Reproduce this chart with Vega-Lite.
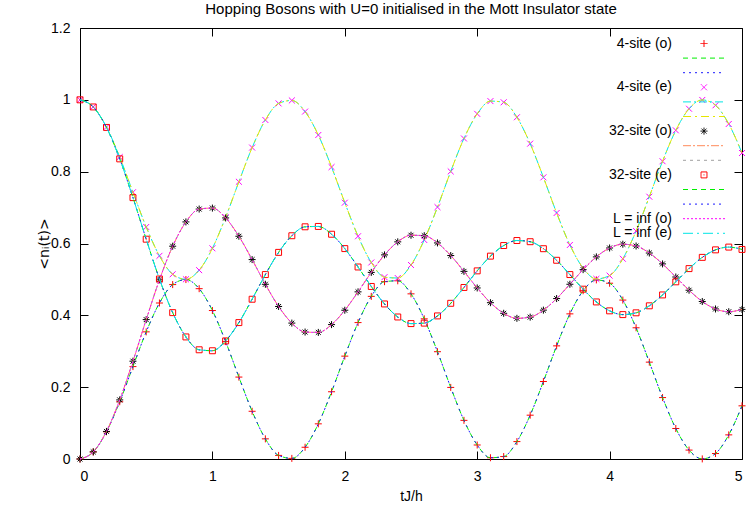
{
  "$schema": "https://vega.github.io/schema/vega-lite/v6.json",
  "width": 662,
  "height": 431,
  "autosize": {"type": "none"},
  "padding": {"left": 80, "top": 28, "right": 5, "bottom": 53},
  "title": {"text": "Hopping Bosons with U=0 initialised in the Mott Insulator state", "font": "Liberation Sans", "fontSize": 15, "fontWeight": "normal", "color": "#000", "offset": 4},
  "data": {"values": [
    {"t": 0.0, "o4": 0.0, "e4": 1.0, "o32": 0.0, "e32": 1.0, "oi": 0.0, "ei": 1.0},
    {"t": 0.1, "o4": 0.0197, "e4": 0.9803, "o32": 0.0198, "e32": 0.9802, "oi": 0.0198, "ei": 0.9802},
    {"t": 0.2, "o4": 0.0758, "e4": 0.9242, "o32": 0.0768, "e32": 0.9232, "oi": 0.0768, "ei": 0.9232},
    {"t": 0.3, "o4": 0.1594, "e4": 0.8406, "o32": 0.1645, "e32": 0.8356, "oi": 0.1645, "ei": 0.8356},
    {"t": 0.4, "o4": 0.2573, "e4": 0.7427, "o32": 0.2723, "e32": 0.7277, "oi": 0.2723, "ei": 0.7277},
    {"t": 0.5, "o4": 0.354, "e4": 0.646, "o32": 0.3881, "e32": 0.612, "oi": 0.3881, "ei": 0.612},
    {"t": 0.6, "o4": 0.4343, "e4": 0.5657, "o32": 0.4988, "e32": 0.5012, "oi": 0.4988, "ei": 0.5012},
    {"t": 0.7, "o4": 0.4856, "e4": 0.5144, "o32": 0.5925, "e32": 0.4075, "oi": 0.5925, "ei": 0.4075},
    {"t": 0.8, "o4": 0.4996, "e4": 0.5004, "o32": 0.6601, "e32": 0.3399, "oi": 0.6601, "ei": 0.3399},
    {"t": 0.9, "o4": 0.4742, "e4": 0.5258, "o32": 0.6959, "e32": 0.3041, "oi": 0.6959, "ei": 0.3041},
    {"t": 1.0, "o4": 0.4134, "e4": 0.5866, "o32": 0.6986, "e32": 0.3014, "oi": 0.6986, "ei": 0.3014},
    {"t": 1.1, "o4": 0.3268, "e4": 0.6732, "o32": 0.6712, "e32": 0.3288, "oi": 0.6712, "ei": 0.3288},
    {"t": 1.2, "o4": 0.2281, "e4": 0.7719, "o32": 0.6202, "e32": 0.3798, "oi": 0.6202, "ei": 0.3798},
    {"t": 1.3, "o4": 0.1329, "e4": 0.8671, "o32": 0.5552, "e32": 0.4448, "oi": 0.5552, "ei": 0.4448},
    {"t": 1.4, "o4": 0.0561, "e4": 0.9439, "o32": 0.4865, "e32": 0.5135, "oi": 0.4865, "ei": 0.5135},
    {"t": 1.5, "o4": 0.01, "e4": 0.99, "o32": 0.4247, "e32": 0.5753, "oi": 0.4247, "ei": 0.5753},
    {"t": 1.6, "o4": 0.0017, "e4": 0.9983, "o32": 0.3784, "e32": 0.6216, "oi": 0.3784, "ei": 0.6216},
    {"t": 1.7, "o4": 0.0327, "e4": 0.9673, "o32": 0.3535, "e32": 0.6465, "oi": 0.3535, "ei": 0.6465},
    {"t": 1.8, "o4": 0.0979, "e4": 0.9021, "o32": 0.3525, "e32": 0.6475, "oi": 0.3525, "ei": 0.6475},
    {"t": 1.9, "o4": 0.1872, "e4": 0.8128, "o32": 0.3742, "e32": 0.6258, "oi": 0.3742, "ei": 0.6258},
    {"t": 2.0, "o4": 0.2864, "e4": 0.7136, "o32": 0.4142, "e32": 0.5858, "oi": 0.4142, "ei": 0.5858},
    {"t": 2.1, "o4": 0.3798, "e4": 0.6202, "o32": 0.4654, "e32": 0.5346, "oi": 0.4654, "ei": 0.5346},
    {"t": 2.2, "o4": 0.4528, "e4": 0.5472, "o32": 0.5196, "e32": 0.4804, "oi": 0.5196, "ei": 0.4804},
    {"t": 2.3, "o4": 0.4937, "e4": 0.5063, "o32": 0.5683, "e32": 0.4317, "oi": 0.5683, "ei": 0.4317},
    {"t": 2.4, "o4": 0.4962, "e4": 0.5038, "o32": 0.6046, "e32": 0.3954, "oi": 0.6046, "ei": 0.3954},
    {"t": 2.5, "o4": 0.4598, "e4": 0.5402, "o32": 0.623, "e32": 0.377, "oi": 0.623, "ei": 0.377},
    {"t": 2.6, "o4": 0.3902, "e4": 0.6098, "o32": 0.6217, "e32": 0.3783, "oi": 0.6217, "ei": 0.3783},
    {"t": 2.7, "o4": 0.2987, "e4": 0.7013, "o32": 0.6016, "e32": 0.3984, "oi": 0.6016, "ei": 0.3984},
    {"t": 2.8, "o4": 0.1993, "e4": 0.8007, "o32": 0.5665, "e32": 0.4335, "oi": 0.5665, "ei": 0.4335},
    {"t": 2.9, "o4": 0.1076, "e4": 0.8924, "o32": 0.5224, "e32": 0.4776, "oi": 0.5224, "ei": 0.4776},
    {"t": 3.0, "o4": 0.039, "e4": 0.961, "o32": 0.4762, "e32": 0.5238, "oi": 0.4762, "ei": 0.5238},
    {"t": 3.1, "o4": 0.0035, "e4": 0.9965, "o32": 0.4352, "e32": 0.5648, "oi": 0.4352, "ei": 0.5648},
    {"t": 3.2, "o4": 0.0068, "e4": 0.9932, "o32": 0.4057, "e32": 0.5943, "oi": 0.4057, "ei": 0.5943},
    {"t": 3.3, "o4": 0.0485, "e4": 0.9515, "o32": 0.3917, "e32": 0.6083, "oi": 0.3917, "ei": 0.6083},
    {"t": 3.4, "o4": 0.122, "e4": 0.878, "o32": 0.395, "e32": 0.605, "oi": 0.395, "ei": 0.605},
    {"t": 3.5, "o4": 0.2158, "e4": 0.7842, "o32": 0.4145, "e32": 0.5855, "oi": 0.4145, "ei": 0.5855},
    {"t": 3.6, "o4": 0.315, "e4": 0.685, "o32": 0.4467, "e32": 0.5533, "oi": 0.4467, "ei": 0.5533},
    {"t": 3.7, "o4": 0.4041, "e4": 0.5959, "o32": 0.4865, "e32": 0.5135, "oi": 0.4865, "ei": 0.5135},
    {"t": 3.8, "o4": 0.4685, "e4": 0.5315, "o32": 0.5272, "e32": 0.4728, "oi": 0.5272, "ei": 0.4728},
    {"t": 3.9, "o4": 0.4986, "e4": 0.5014, "o32": 0.5627, "e32": 0.4373, "oi": 0.5627, "ei": 0.4373},
    {"t": 4.0, "o4": 0.4894, "e4": 0.5106, "o32": 0.5875, "e32": 0.4125, "oi": 0.5875, "ei": 0.4125},
    {"t": 4.1, "o4": 0.4425, "e4": 0.5575, "o32": 0.598, "e32": 0.402, "oi": 0.598, "ei": 0.402},
    {"t": 4.2, "o4": 0.3653, "e4": 0.6347, "o32": 0.593, "e32": 0.407, "oi": 0.593, "ei": 0.407},
    {"t": 4.3, "o4": 0.2697, "e4": 0.7303, "o32": 0.5735, "e32": 0.4265, "oi": 0.5735, "ei": 0.4265},
    {"t": 4.4, "o4": 0.171, "e4": 0.829, "o32": 0.5432, "e32": 0.4568, "oi": 0.5432, "ei": 0.4568},
    {"t": 4.5, "o4": 0.0849, "e4": 0.9151, "o32": 0.5067, "e32": 0.4933, "oi": 0.5067, "ei": 0.4933},
    {"t": 4.6, "o4": 0.0248, "e4": 0.9752, "o32": 0.4699, "e32": 0.5301, "oi": 0.4699, "ei": 0.5301},
    {"t": 4.7, "o4": 0.0003, "e4": 0.9997, "o32": 0.4386, "e32": 0.5614, "oi": 0.4386, "ei": 0.5614},
    {"t": 4.8, "o4": 0.0152, "e4": 0.9848, "o32": 0.4177, "e32": 0.5823, "oi": 0.4177, "ei": 0.5823},
    {"t": 4.9, "o4": 0.0672, "e4": 0.9328, "o32": 0.41, "e32": 0.59, "oi": 0.41, "ei": 0.59},
    {"t": 5.0, "o4": 0.148, "e4": 0.852, "o32": 0.4165, "e32": 0.5835, "oi": 0.4165, "ei": 0.5835}
  ]},
  "config": {
    "view": {"stroke": "#000", "strokeWidth": 1},
    "axis": {"grid": false, "domain": false, "tickColor": "#000", "tickWidth": 1, "tickSize": -8, "labelFont": "Liberation Sans", "labelFontSize": 14, "labelColor": "#000", "labelPadding": 18, "titleFont": "Liberation Sans", "titleFontSize": 14, "titleFontWeight": "normal", "titleColor": "#000"},
    "line": {"strokeWidth": 1, "interpolate": "monotone"},
    "point": {"filled": false, "size": 49, "strokeWidth": 1, "opacity": 1}
  },
  "resolve": {"axis": {"x": "independent", "y": "independent"}},
  "encoding": {
    "x": {"field": "t", "type": "quantitative", "scale": {"domain": [0, 5], "nice": false}, "axis": null}
  },
  "layer": [
    {
      "mark": "point",
      "encoding": {
        "x": {"field": "t", "type": "quantitative", "scale": {"domain": [0, 5], "nice": false}, "axis": {"orient": "bottom", "values": [0, 1, 2, 3, 4, 5], "title": "tJ/h", "titlePadding": 6}},
        "y": {"field": "o4", "type": "quantitative", "scale": {"domain": [0, 1.2], "nice": false, "zero": false}, "axis": {"orient": "left", "values": [0, 0.2, 0.4, 0.6, 0.8, 1, 1.2], "format": "~g", "title": "<nᵢ(t)>", "titleFont": "DejaVu Sans", "titleFontSize": 14, "titlePadding": -1}},
        "color": {"datum": "4-site (o)", "type": "nominal",
          "scale": {"domain": ["4-site (o)", " ", "  ", "4-site (e)", "   ", "    ", "32-site (o)", "     ", "      ", "32-site (e)", "       ", "        ", "L = inf (o)", "L = inf (e)"],
                    "range": ["#ff0000", "#00ee00", "#1a1aff", "#ff00ff", "#00e5e5", "#e6e600", "#000000", "#ff8a5a", "#a0a0a0", "#ff0000", "#00ee00", "#1a1aff", "#ff00ff", "#00e5e5"]},
          "legend": {"title": null, "orient": "none", "legendX": 617, "legendY": 8.5, "padding": 0, "symbolSize": 49, "symbolStrokeWidth": 1, "labelAlign": "right", "labelOffset": -39, "labelFont": "Liberation Sans", "labelFontSize": 14, "labelColor": "#000", "labelLimit": 300, "rowPadding": 0.6,
            "encode": {"symbols": {"update": {"stroke": {"scale": "color", "field": "value"}, "fill": {"value": "transparent"}, "strokeWidth": {"value": 1}, "shape": {"scale": "shape", "field": "value"}, "strokeDash": {"scale": "strokeDash", "field": "value"}, "size": {"value": 49}, "opacity": {"value": 1}}}}}},
        "shape": {"datum": "4-site (o)", "type": "nominal", "legend": null,
          "scale": {"domain": ["4-site (o)", " ", "  ", "4-site (e)", "   ", "    ", "32-site (o)", "     ", "      ", "32-site (e)", "       ", "        ", "L = inf (o)", "L = inf (e)"],
                    "range": ["M-1,0H1M0,-1V1", "M-6,0H6", "M-6,0H6", "M-0.85,-0.85L0.85,0.85M-0.85,0.85L0.85,-0.85", "M-6,0H6", "M-6,0H6", "M-1,0H1M0,-1V1M-0.7,-0.7L0.7,0.7M-0.7,0.7L0.7,-0.7", "M-6,0H6", "M-6,0H6", "M-0.85,-0.85H0.85V0.85H-0.85ZM-0.15,0H0.15", "M-6,0H6", "M-6,0H6", "M-6,0H6", "M-6,0H6"]}}
      }
    },
    {
      "mark": "line",
      "encoding": {
        "x": {"field": "t", "type": "quantitative", "scale": {"domain": [0, 5], "nice": false}, "axis": {"orient": "top", "values": [0, 1, 2, 3, 4, 5], "labels": false, "title": null}},
        "y": {"field": "o4", "type": "quantitative", "axis": {"orient": "right", "values": [0, 0.2, 0.4, 0.6, 0.8, 1, 1.2], "labels": false, "title": null}},
        "color": {"datum": " ", "type": "nominal"},
        "strokeDash": {"datum": " ", "type": "nominal", "legend": null,
          "scale": {"domain": ["4-site (o)", " ", "  ", "4-site (e)", "   ", "    ", "32-site (o)", "     ", "      ", "32-site (e)", "       ", "        ", "L = inf (o)", "L = inf (e)"],
                    "range": [[1, 0], [5, 4], [2, 4], [1, 0], [8, 3, 2, 3], [8, 4, 2, 4], [1, 0], [8, 2, 2, 2], [3, 4], [1, 0], [5, 4], [2, 4], [2, 2], [10, 4, 2, 4]]}}
      }
    },
    {"mark": "line", "encoding": {"y": {"field": "o4", "type": "quantitative", "axis": null}, "color": {"datum": "  ", "type": "nominal"}, "strokeDash": {"datum": "  ", "type": "nominal", "legend": null}}},
    {"mark": "point", "encoding": {"y": {"field": "e4", "type": "quantitative", "axis": null}, "color": {"datum": "4-site (e)", "type": "nominal"}, "shape": {"datum": "4-site (e)", "type": "nominal", "legend": null}}},
    {"mark": "line", "encoding": {"y": {"field": "e4", "type": "quantitative", "axis": null}, "color": {"datum": "   ", "type": "nominal"}, "strokeDash": {"datum": "   ", "type": "nominal", "legend": null}}},
    {"mark": "line", "encoding": {"y": {"field": "e4", "type": "quantitative", "axis": null}, "color": {"datum": "    ", "type": "nominal"}, "strokeDash": {"datum": "    ", "type": "nominal", "legend": null}}},
    {"mark": "point", "encoding": {"y": {"field": "o32", "type": "quantitative", "axis": null}, "color": {"datum": "32-site (o)", "type": "nominal"}, "shape": {"datum": "32-site (o)", "type": "nominal", "legend": null}}},
    {"mark": "line", "encoding": {"y": {"field": "o32", "type": "quantitative", "axis": null}, "color": {"datum": "     ", "type": "nominal"}, "strokeDash": {"datum": "     ", "type": "nominal", "legend": null}}},
    {"mark": "line", "encoding": {"y": {"field": "o32", "type": "quantitative", "axis": null}, "color": {"datum": "      ", "type": "nominal"}, "strokeDash": {"datum": "      ", "type": "nominal", "legend": null}}},
    {"mark": "point", "encoding": {"y": {"field": "e32", "type": "quantitative", "axis": null}, "color": {"datum": "32-site (e)", "type": "nominal"}, "shape": {"datum": "32-site (e)", "type": "nominal", "legend": null}}},
    {"mark": "line", "encoding": {"y": {"field": "e32", "type": "quantitative", "axis": null}, "color": {"datum": "       ", "type": "nominal"}, "strokeDash": {"datum": "       ", "type": "nominal", "legend": null}}},
    {"mark": "line", "encoding": {"y": {"field": "e32", "type": "quantitative", "axis": null}, "color": {"datum": "        ", "type": "nominal"}, "strokeDash": {"datum": "        ", "type": "nominal", "legend": null}}},
    {"mark": "line", "encoding": {"y": {"field": "oi", "type": "quantitative", "axis": null}, "color": {"datum": "L = inf (o)", "type": "nominal"}, "strokeDash": {"datum": "L = inf (o)", "type": "nominal", "legend": null}}},
    {"mark": "line", "encoding": {"y": {"field": "ei", "type": "quantitative", "axis": null}, "color": {"datum": "L = inf (e)", "type": "nominal"}, "strokeDash": {"datum": "L = inf (e)", "type": "nominal", "legend": null}}}
  ]
}
